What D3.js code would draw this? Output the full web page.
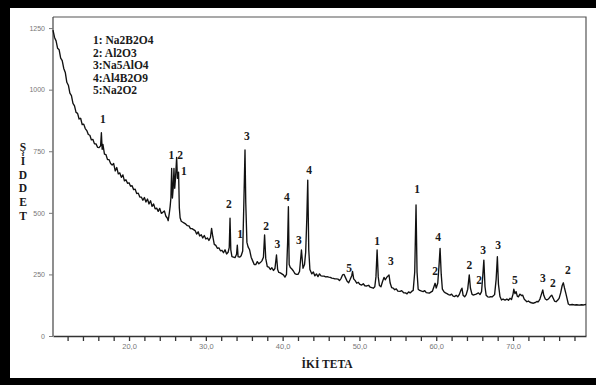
<!DOCTYPE html>
<html>
<head>
<meta charset="utf-8">
<script src="https://cdn.jsdelivr.net/npm/d3@7"></script>
<style>
  body { margin: 0; background: #fff; }
  svg { display: block; }
</style>
</head>
<body>
<div id="chart"></div>
<script>
// XRD pattern
const twoTheta = [
  10.1, 10.3, 10.5, 10.7, 10.9, 11.1, 11.3, 11.5, 11.7, 11.9, 12.1, 12.3, 12.5, 12.7, 12.9,
  13.1, 13.3, 13.5, 13.7, 13.9, 14.1, 14.3, 14.5, 14.7, 14.9, 15.1, 15.3, 15.5, 15.7, 15.9,
  16.1, 16.3, 16.4, 16.5, 16.6, 16.8, 17.0, 17.2, 17.4, 17.6, 17.8, 18.0, 18.2, 18.4, 18.6,
  18.8, 19.0, 19.2, 19.4, 19.6, 19.8, 20.0, 20.2, 20.4, 20.6, 20.8, 21.0, 21.2, 21.4, 21.6,
  21.8, 22.0, 22.2, 22.4, 22.6, 22.8, 23.0, 23.2, 23.4, 23.6, 23.8, 24.0, 24.2, 24.4, 24.6,
  24.8, 25.0, 25.1, 25.25, 25.35, 25.45, 25.55, 25.65, 25.75, 25.85, 25.95, 26.05, 26.2, 26.3, 26.45,
  26.55, 26.65, 26.8, 27.0, 27.2, 27.4, 27.6, 27.8, 28.0, 28.2, 28.4, 28.6, 28.8, 29.0, 29.2,
  29.4, 29.6, 29.8, 30.0, 30.2, 30.4, 30.6, 30.75, 30.9, 31.1, 31.3, 31.5, 31.7, 31.9, 32.1,
  32.3, 32.5, 32.7, 32.9, 33.05, 33.15, 33.25, 33.4, 33.6, 33.8, 34.0, 34.1, 34.2, 34.4, 34.6,
  34.8, 34.95, 35.1, 35.2, 35.35, 35.5, 35.7, 35.9, 36.1, 36.3, 36.5, 36.7, 36.9, 37.1, 37.3,
  37.5, 37.65, 37.8, 38.0, 38.2, 38.4, 38.6, 38.8, 39.0, 39.2, 39.35, 39.5, 39.7, 39.9, 40.1,
  40.3, 40.5, 40.65, 40.75, 40.85, 41.0, 41.2, 41.4, 41.6, 41.8, 42.0, 42.2, 42.45, 42.65, 42.85,
  43.0, 43.15, 43.27, 43.4, 43.55, 43.8, 44.0, 44.2, 44.4, 44.6, 44.8, 45.0, 45.2, 45.4, 45.6,
  45.8, 46.0, 46.2, 46.4, 46.6, 46.8, 47.0, 47.2, 47.4, 47.6, 47.8, 48.0, 48.2, 48.4, 48.6,
  48.8, 49.0, 49.1, 49.25, 49.45, 49.65, 49.85, 50.05, 50.3, 50.5, 50.7, 50.95, 51.2, 51.4, 51.6,
  51.8, 52.0, 52.15, 52.3, 52.45, 52.6, 52.8, 53.0, 53.2, 53.35, 53.6, 53.85, 54.0, 54.2, 54.4,
  54.6, 54.8, 55.0, 55.3, 55.5, 55.8, 56.0, 56.2, 56.4, 56.6, 56.8, 57.0, 57.2, 57.37, 57.5,
  57.65, 57.85, 58.1, 58.3, 58.5, 58.7, 58.9, 59.1, 59.3, 59.5, 59.7, 59.85, 60.0, 60.2, 60.35,
  60.5, 60.65, 60.8, 61.0, 61.2, 61.4, 61.6, 61.8, 62.0, 62.2, 62.4, 62.6, 62.8, 63.0, 63.2,
  63.35, 63.5, 63.7, 63.9, 64.1, 64.3, 64.45, 64.65, 64.8, 65.0, 65.2, 65.5, 65.7, 65.9, 66.05,
  66.2, 66.35, 66.5, 66.7, 66.9, 67.1, 67.3, 67.6, 67.8, 67.96, 68.1, 68.3, 68.5, 68.7, 68.96,
  69.2, 69.4, 69.6, 69.8, 70.0, 70.1, 70.25, 70.4, 70.55, 70.7, 70.9, 71.1, 71.25, 71.45, 71.6,
  71.8, 72.0, 72.2, 72.4, 72.65, 72.9, 73.1, 73.3, 73.5, 73.7, 73.87, 74.0, 74.2, 74.4, 74.6,
  74.85, 75.04, 75.2, 75.4, 75.6, 75.8, 76.0, 76.2, 76.4, 76.55, 76.7, 76.9, 77.05, 77.2, 77.4,
  77.7, 78.0, 78.3, 78.6, 78.9, 79.2, 79.5
];
const intensity = [
  1242, 1212, 1198, 1168, 1162, 1128, 1118, 1086, 1070, 1030, 1018, 986, 976, 944, 934,
  908, 904, 881, 884, 858, 860, 842, 834, 818, 815, 796, 798, 780, 780, 766,
  765, 772, 825, 758, 778, 738, 736, 716, 716, 700, 694, 700, 670, 684, 658,
  662, 644, 654, 630, 634, 620, 622, 608, 610, 594, 596, 578, 580, 564, 564,
  551, 562, 544, 556, 536, 549, 526, 536, 516, 519, 506, 518, 498, 502, 508,
  486, 478, 468, 500, 525, 560, 680, 560, 600, 680, 600, 640, 725, 640, 665,
  520, 480, 466, 462, 458, 454, 448, 447, 436, 436, 432, 428, 414, 423, 406,
  411, 398, 408, 394, 398, 388, 400, 437, 405, 372, 368, 356, 358, 346, 348,
  338, 350, 333, 340, 360, 478, 350, 322, 320, 318, 332, 369, 322, 320, 326,
  345, 540, 755, 540, 380, 362, 350, 320, 305, 290, 290, 302, 293, 298, 305,
  320, 410, 315, 282, 280, 270, 277, 266, 274, 329, 270, 258, 256, 252, 248,
  239, 250, 380, 525, 290, 278, 272, 264, 253, 250, 250, 262, 349, 275, 290,
  340, 480, 633, 350, 270, 252, 260, 244, 252, 241, 252, 244, 243, 243, 240,
  241, 239, 238, 235, 234, 232, 232, 231, 225, 233, 248, 250, 236, 222, 216,
  230, 245, 262, 232, 225, 214, 218, 210, 207, 212, 204, 203, 206, 198, 196,
  194, 200, 240, 349, 240, 205, 200, 220, 238, 228, 240, 248, 215, 196, 194,
  188, 191, 182, 181, 184, 175, 175, 171, 179, 175, 181, 185, 260, 532, 260,
  190, 185, 182, 180, 184, 176, 175, 174, 178, 182, 200, 214, 195, 215, 280,
  356, 250, 190, 180, 175, 172, 168, 166, 170, 162, 160, 165, 159, 168, 185,
  194, 165, 159, 168, 190, 248, 195, 170, 166, 168, 170, 175, 168, 180, 240,
  308, 200, 165, 159, 158, 160, 159, 168, 230, 322, 210, 160, 146, 150, 146,
  150, 145, 153, 148, 170, 190, 172, 180, 162, 159, 170, 164, 166, 150, 145,
  139, 142, 137, 135, 133, 136, 140, 139, 150, 170, 187, 165, 150, 146, 150,
  160, 166, 155, 142, 139, 145, 153, 175, 205, 216, 195, 170, 150, 130, 126,
  128, 126, 127, 125, 127, 126, 128
];

// phase markers above the peaks
const markAngle = [16.6, 25.5, 26.65, 27.15, 35.35, 33.0, 34.45, 37.85, 39.3, 40.55, 42.1, 43.45, 48.65,
  52.3, 54.1, 57.5, 59.85, 60.25, 64.3, 65.6, 66.1, 68.05, 70.25, 73.9, 75.2, 77.15];
const markLevel = [881, 734, 734, 670, 812, 536, 414, 446, 373, 564, 390, 674, 276,
  386, 304, 597, 264, 402, 288, 227, 349, 369, 227, 235, 215, 268];
const markPhase = ["1", "1", "2", "1", "3", "2", "1", "2", "3", "4", "3", "4", "5",
  "1", "3", "1", "2", "4", "2", "2", "3", "3", "5", "3", "2", "2"];

const legendLines = ["1: Na2B2O4", "2: Al2O3", "3:Na5AlO4", "4:Al4B2O9", "5:Na2O2"];
const yTicks = [0, 250, 500, 750, 1000, 1250];
const xTicks = d3.range(12, 79, 2);
const xLabelTicks = [20, 30, 40, 50, 60, 70];
const yTitle = ["Ş", "İ", "D", "D", "E", "T"];
const xTitle = "İKİ TETA";

const width = 596, height = 385;
const plot = { left: 53, right: 586, top: 17, bottom: 336 };
const serif = "'Liberation Serif', 'Times New Roman', serif";
const sans = "'Liberation Sans', Arial, sans-serif";

const svg = d3.select("#chart").append("svg")
  .attr("width", width).attr("height", height);

// outer black frame
svg.append("rect").attr("x", 0).attr("y", 0).attr("width", width).attr("height", height).attr("fill", "#000");
svg.append("rect").attr("x", 10).attr("y", 8).attr("width", width - 10).attr("height", 370).attr("fill", "#fff");

const x = d3.scaleLinear().domain([10.1, 79.5]).range([plot.left, plot.right]);
const y = d3.scaleLinear().domain([0, 1295]).range([plot.bottom, plot.top]);

// plot frame (top + right)
svg.append("path")
  .attr("d", `M${plot.left},${plot.top}H${plot.right}V${plot.bottom}`)
  .attr("fill", "none").attr("stroke", "#555").attr("stroke-width", 1.2);

// x axis
const xAxis = d3.axisBottom(x)
  .tickValues(xTicks)
  .tickSize(5).tickSizeOuter(0).tickPadding(3)
  .tickFormat(d => xLabelTicks.includes(d) ? d.toFixed(1).replace(".", ",") : "");
const gx = svg.append("g").attr("transform", `translate(0,${plot.bottom})`).call(xAxis);
gx.select(".domain").attr("stroke", "#333").attr("stroke-width", 1.3);
gx.selectAll(".tick line").attr("stroke", "#333").attr("stroke-width", 1.3);
gx.selectAll(".tick text").attr("fill", "#777").style("font", `7.5px ${sans}`);

// y axis
const yAxis = d3.axisLeft(y)
  .tickValues(yTicks)
  .tickSize(4).tickSizeOuter(0).tickPadding(4)
  .tickFormat(d3.format("d"));
const gy = svg.append("g").attr("transform", `translate(${plot.left},0)`).call(yAxis);
gy.select(".domain").attr("stroke", "#444").attr("stroke-width", 1.2)
  .attr("d", `M0,${plot.top}V${plot.bottom}`);
gy.selectAll(".tick line").attr("stroke", "#777");
gy.selectAll(".tick text").attr("fill", "#777").style("font", `7px ${sans}`);

// pattern
const pts = twoTheta.map((t, i) => [t, intensity[i]]);
const line = d3.line().x(d => x(d[0])).y(d => y(d[1]));
svg.append("path")
  .datum(pts)
  .attr("d", line)
  .attr("fill", "none")
  .attr("stroke", "#111")
  .attr("stroke-width", 1.35)
  .attr("stroke-linejoin", "round");

// phase marks
svg.append("g").selectAll("text")
  .data(markPhase)
  .join("text")
  .attr("x", (d, i) => x(markAngle[i]))
  .attr("y", (d, i) => y(markLevel[i]))
  .attr("text-anchor", "middle")
  .attr("dominant-baseline", "central")
  .style("font", `bold 11.5px ${serif}`)
  .attr("fill", "#1a1a1a")
  .text(d => d);

// legend
svg.append("g").selectAll("text")
  .data(legendLines)
  .join("text")
  .attr("x", 93)
  .attr("y", (d, i) => 44 + i * 12.5)
  .style("font", `bold 11.5px ${serif}`)
  .attr("fill", "#1a1a1a")
  .text(d => d);

// axis titles
svg.append("g").selectAll("text")
  .data(yTitle)
  .join("text")
  .attr("x", 23)
  .attr("y", (d, i) => 151 + i * 13.8)
  .attr("text-anchor", "middle")
  .style("font", `bold 11.5px ${serif}`)
  .attr("fill", "#1a1a1a")
  .text(d => d);

svg.append("text")
  .attr("x", 327).attr("y", 368)
  .attr("text-anchor", "middle")
  .style("font", `bold 11.5px ${serif}`)
  .attr("fill", "#1a1a1a")
  .text(xTitle);
</script>
</body>
</html>
